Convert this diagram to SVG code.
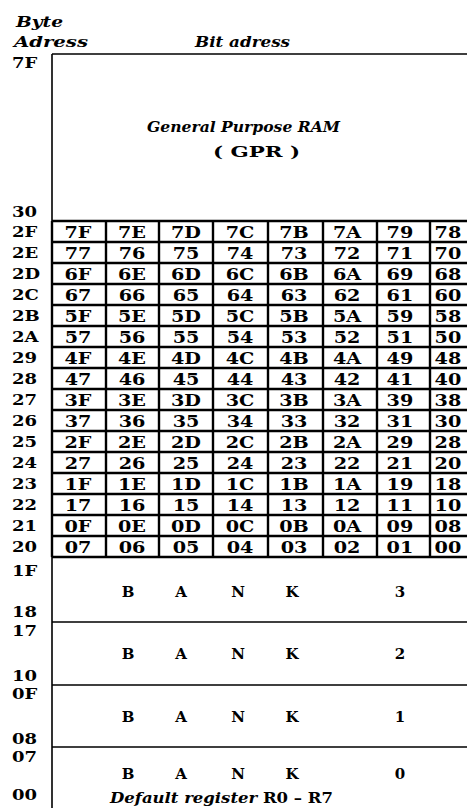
<svg xmlns="http://www.w3.org/2000/svg" width="467" height="808" viewBox="0 0 467 808">
<style>
text{font-family:"DejaVu Serif","Liberation Serif",serif;font-weight:bold;fill:#000}
.lbl{font-size:15px}
.cell{font-size:16px;text-anchor:middle}
.it{font-style:italic}
.bk{font-size:15px;text-anchor:middle}
.frame{stroke:#000;stroke-width:1.6;fill:none}
.grid{stroke:#000;stroke-width:2.4;fill:none}
</style>
<rect width="467" height="808" fill="#fff"/>
<g id="header">
<text class="lbl it" x="16" y="27" textLength="47" lengthAdjust="spacingAndGlyphs">Byte</text>
<text class="lbl it" x="14" y="47" textLength="74" lengthAdjust="spacingAndGlyphs">Adress</text>
<text class="lbl it" x="195" y="47" textLength="95" lengthAdjust="spacingAndGlyphs">Bit adress</text>
</g>
<g id="frame">
<path class="frame" d="M52,54 H467 M52,54 V808 M52,622 H467 M52,685 H467 M52,747 H467"/>
</g>
<g id="gpr">
<text class="lbl it" x="147" y="132" font-size="16" textLength="193" lengthAdjust="spacingAndGlyphs">General Purpose RAM</text>
<text class="lbl" x="213" y="157" textLength="87" lengthAdjust="spacingAndGlyphs">( GPR )</text>
</g>
<g id="grid">
<path class="grid" d="M52,221H467M52,242H467M52,263H467M52,284H467M52,305H467M52,326H467M52,347H467M52,368H467M52,389H467M52,410H467M52,431H467M52,452H467M52,473H467M52,494H467M52,515H467M52,536H467M52,557H467M52,221V557M106,221V557M159,221V557M213,221V557M268,221V557M323,221V557M377,221V557M430,221V557"/>
</g>
<g id="address-labels" transform="scale(1.2 1)">
<text class="lbl" x="10" y="68.5">7F</text>
<text class="lbl" x="10" y="217">30</text>
<text class="lbl" x="10" y="237.5">2F</text>
<text class="lbl" x="10" y="258.5">2E</text>
<text class="lbl" x="10" y="279.5">2D</text>
<text class="lbl" x="10" y="300.5">2C</text>
<text class="lbl" x="10" y="321.5">2B</text>
<text class="lbl" x="10" y="342.5">2A</text>
<text class="lbl" x="10" y="363.5">29</text>
<text class="lbl" x="10" y="384.5">28</text>
<text class="lbl" x="10" y="405.5">27</text>
<text class="lbl" x="10" y="426.5">26</text>
<text class="lbl" x="10" y="447.5">25</text>
<text class="lbl" x="10" y="468.5">24</text>
<text class="lbl" x="10" y="489.5">23</text>
<text class="lbl" x="10" y="510.5">22</text>
<text class="lbl" x="10" y="531.5">21</text>
<text class="lbl" x="10" y="552.5">20</text>
<text class="lbl" x="10" y="576">1F</text>
<text class="lbl" x="10" y="617">18</text>
<text class="lbl" x="10" y="636">17</text>
<text class="lbl" x="10" y="681">10</text>
<text class="lbl" x="10" y="699">0F</text>
<text class="lbl" x="10" y="744">08</text>
<text class="lbl" x="10" y="762">07</text>
<text class="lbl" x="10" y="800">00</text>
</g>
<g id="bit-cells" transform="scale(1.2 1)">
<g id="row-2F"><text class="cell" x="65" y="238.5">7F</text><text class="cell" x="110" y="238.5">7E</text><text class="cell" x="155" y="238.5">7D</text><text class="cell" x="200" y="238.5">7C</text><text class="cell" x="245" y="238.5">7B</text><text class="cell" x="289.2" y="238.5">7A</text><text class="cell" x="333.3" y="238.5">79</text><text class="cell" x="373.3" y="238.5">78</text></g>
<g id="row-2E"><text class="cell" x="65" y="259.5">77</text><text class="cell" x="110" y="259.5">76</text><text class="cell" x="155" y="259.5">75</text><text class="cell" x="200" y="259.5">74</text><text class="cell" x="245" y="259.5">73</text><text class="cell" x="289.2" y="259.5">72</text><text class="cell" x="333.3" y="259.5">71</text><text class="cell" x="373.3" y="259.5">70</text></g>
<g id="row-2D"><text class="cell" x="65" y="280.5">6F</text><text class="cell" x="110" y="280.5">6E</text><text class="cell" x="155" y="280.5">6D</text><text class="cell" x="200" y="280.5">6C</text><text class="cell" x="245" y="280.5">6B</text><text class="cell" x="289.2" y="280.5">6A</text><text class="cell" x="333.3" y="280.5">69</text><text class="cell" x="373.3" y="280.5">68</text></g>
<g id="row-2C"><text class="cell" x="65" y="301.5">67</text><text class="cell" x="110" y="301.5">66</text><text class="cell" x="155" y="301.5">65</text><text class="cell" x="200" y="301.5">64</text><text class="cell" x="245" y="301.5">63</text><text class="cell" x="289.2" y="301.5">62</text><text class="cell" x="333.3" y="301.5">61</text><text class="cell" x="373.3" y="301.5">60</text></g>
<g id="row-2B"><text class="cell" x="65" y="322.5">5F</text><text class="cell" x="110" y="322.5">5E</text><text class="cell" x="155" y="322.5">5D</text><text class="cell" x="200" y="322.5">5C</text><text class="cell" x="245" y="322.5">5B</text><text class="cell" x="289.2" y="322.5">5A</text><text class="cell" x="333.3" y="322.5">59</text><text class="cell" x="373.3" y="322.5">58</text></g>
<g id="row-2A"><text class="cell" x="65" y="343.5">57</text><text class="cell" x="110" y="343.5">56</text><text class="cell" x="155" y="343.5">55</text><text class="cell" x="200" y="343.5">54</text><text class="cell" x="245" y="343.5">53</text><text class="cell" x="289.2" y="343.5">52</text><text class="cell" x="333.3" y="343.5">51</text><text class="cell" x="373.3" y="343.5">50</text></g>
<g id="row-29"><text class="cell" x="65" y="364.5">4F</text><text class="cell" x="110" y="364.5">4E</text><text class="cell" x="155" y="364.5">4D</text><text class="cell" x="200" y="364.5">4C</text><text class="cell" x="245" y="364.5">4B</text><text class="cell" x="289.2" y="364.5">4A</text><text class="cell" x="333.3" y="364.5">49</text><text class="cell" x="373.3" y="364.5">48</text></g>
<g id="row-28"><text class="cell" x="65" y="385.5">47</text><text class="cell" x="110" y="385.5">46</text><text class="cell" x="155" y="385.5">45</text><text class="cell" x="200" y="385.5">44</text><text class="cell" x="245" y="385.5">43</text><text class="cell" x="289.2" y="385.5">42</text><text class="cell" x="333.3" y="385.5">41</text><text class="cell" x="373.3" y="385.5">40</text></g>
<g id="row-27"><text class="cell" x="65" y="406.5">3F</text><text class="cell" x="110" y="406.5">3E</text><text class="cell" x="155" y="406.5">3D</text><text class="cell" x="200" y="406.5">3C</text><text class="cell" x="245" y="406.5">3B</text><text class="cell" x="289.2" y="406.5">3A</text><text class="cell" x="333.3" y="406.5">39</text><text class="cell" x="373.3" y="406.5">38</text></g>
<g id="row-26"><text class="cell" x="65" y="427.5">37</text><text class="cell" x="110" y="427.5">36</text><text class="cell" x="155" y="427.5">35</text><text class="cell" x="200" y="427.5">34</text><text class="cell" x="245" y="427.5">33</text><text class="cell" x="289.2" y="427.5">32</text><text class="cell" x="333.3" y="427.5">31</text><text class="cell" x="373.3" y="427.5">30</text></g>
<g id="row-25"><text class="cell" x="65" y="448.5">2F</text><text class="cell" x="110" y="448.5">2E</text><text class="cell" x="155" y="448.5">2D</text><text class="cell" x="200" y="448.5">2C</text><text class="cell" x="245" y="448.5">2B</text><text class="cell" x="289.2" y="448.5">2A</text><text class="cell" x="333.3" y="448.5">29</text><text class="cell" x="373.3" y="448.5">28</text></g>
<g id="row-24"><text class="cell" x="65" y="469.5">27</text><text class="cell" x="110" y="469.5">26</text><text class="cell" x="155" y="469.5">25</text><text class="cell" x="200" y="469.5">24</text><text class="cell" x="245" y="469.5">23</text><text class="cell" x="289.2" y="469.5">22</text><text class="cell" x="333.3" y="469.5">21</text><text class="cell" x="373.3" y="469.5">20</text></g>
<g id="row-23"><text class="cell" x="65" y="490.5">1F</text><text class="cell" x="110" y="490.5">1E</text><text class="cell" x="155" y="490.5">1D</text><text class="cell" x="200" y="490.5">1C</text><text class="cell" x="245" y="490.5">1B</text><text class="cell" x="289.2" y="490.5">1A</text><text class="cell" x="333.3" y="490.5">19</text><text class="cell" x="373.3" y="490.5">18</text></g>
<g id="row-22"><text class="cell" x="65" y="511.5">17</text><text class="cell" x="110" y="511.5">16</text><text class="cell" x="155" y="511.5">15</text><text class="cell" x="200" y="511.5">14</text><text class="cell" x="245" y="511.5">13</text><text class="cell" x="289.2" y="511.5">12</text><text class="cell" x="333.3" y="511.5">11</text><text class="cell" x="373.3" y="511.5">10</text></g>
<g id="row-21"><text class="cell" x="65" y="532.5">0F</text><text class="cell" x="110" y="532.5">0E</text><text class="cell" x="155" y="532.5">0D</text><text class="cell" x="200" y="532.5">0C</text><text class="cell" x="245" y="532.5">0B</text><text class="cell" x="289.2" y="532.5">0A</text><text class="cell" x="333.3" y="532.5">09</text><text class="cell" x="373.3" y="532.5">08</text></g>
<g id="row-20"><text class="cell" x="65" y="553.5">07</text><text class="cell" x="110" y="553.5">06</text><text class="cell" x="155" y="553.5">05</text><text class="cell" x="200" y="553.5">04</text><text class="cell" x="245" y="553.5">03</text><text class="cell" x="289.2" y="553.5">02</text><text class="cell" x="333.3" y="553.5">01</text><text class="cell" x="373.3" y="553.5">00</text></g>
</g>
<g id="bank-3"><text class="bk" x="128" y="597">B</text><text class="bk" x="181" y="597">A</text><text class="bk" x="238" y="597">N</text><text class="bk" x="292" y="597">K</text><text class="bk" x="400" y="597">3</text></g>
<g id="bank-2"><text class="bk" x="128" y="659">B</text><text class="bk" x="181" y="659">A</text><text class="bk" x="238" y="659">N</text><text class="bk" x="292" y="659">K</text><text class="bk" x="400" y="659">2</text></g>
<g id="bank-1"><text class="bk" x="128" y="722">B</text><text class="bk" x="181" y="722">A</text><text class="bk" x="238" y="722">N</text><text class="bk" x="292" y="722">K</text><text class="bk" x="400" y="722">1</text></g>
<g id="bank-0"><text class="bk" x="128" y="779">B</text><text class="bk" x="181" y="779">A</text><text class="bk" x="238" y="779">N</text><text class="bk" x="292" y="779">K</text><text class="bk" x="400" y="779">0</text>
<text class="lbl" x="110" y="802.5" textLength="223" lengthAdjust="spacingAndGlyphs"><tspan class="it">Default register </tspan><tspan>R0 – R7</tspan></text></g>
</svg>
